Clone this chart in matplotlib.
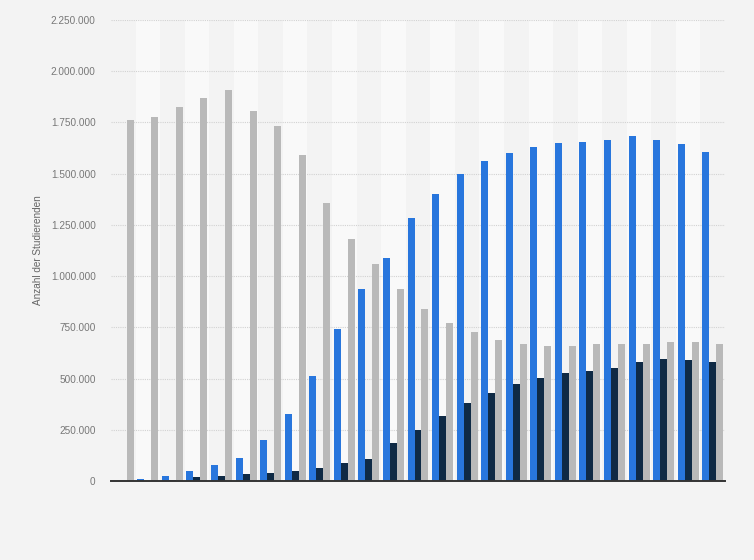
import numpy as np
import matplotlib
matplotlib.use("Agg")
import matplotlib.pyplot as plt
from matplotlib.ticker import FuncFormatter

plt.rcParams['font.family'] = ['Liberation Sans', 'DejaVu Sans']

# ---------- DATA ----------
groups = list(range(1, 26))
blue_vals = [0, 11000, 26000, 47000, 77000, 114000, 199000, 326000, 511000, 740000,
             939000, 1087000, 1282000, 1399000, 1497000, 1560000, 1599000, 1629000,
             1648000, 1653000, 1663000, 1684000, 1663000, 1645000, 1606000]
dark_vals = [0, 2000, 5000, 18000, 26000, 33000, 40000, 50000, 65000, 90000,
             109000, 187000, 250000, 316000, 382000, 431000, 475000, 505000,
             526000, 535000, 550000, 579000, 594000, 589000, 582000]
gray_vals = [1762000, 1777000, 1825000, 1869000, 1908000, 1806000, 1733000, 1590000,
             1355000, 1183000, 1061000, 936000, 838000, 770000, 726000, 690000,
             670000, 660000, 660000, 667000, 670000, 667000, 677000, 677000, 670000]
y_ticks = [0, 250000, 500000, 750000, 1000000, 1250000, 1500000, 1750000, 2000000, 2250000]

BG = '#f3f3f3'
BAND = '#f9f9f9'
BLUE = '#2876dd'
DARK = '#0f2a45'
GRAY = '#b9b9b9'

fig = plt.figure(figsize=(7.54, 5.6), dpi=100, facecolor=BG)
ax = fig.add_axes([111/754, 79/560, 614/754, 461/560])
ax.set_facecolor(BG)

x = np.arange(len(groups))
w = 0.285

# alternating bands
for i in x:
    if i % 2 == 1:
        ax.axvspan(i - 0.5, i + 0.5, color=BAND, zorder=0, lw=0)

ax.bar(x - w, blue_vals, w, color=BLUE, zorder=3)
ax.bar(x, dark_vals, w, color=DARK, zorder=3)
ax.bar(x + w, gray_vals, w, color=GRAY, zorder=3)

ax.set_xlim(-0.5, len(groups) - 0.5)
ax.set_ylim(0, 2250000)
ax.set_yticks(y_ticks)
ax.yaxis.set_major_formatter(FuncFormatter(lambda v, p: f"{int(v):,}".replace(",", ".")))
ax.set_xticks([])
ax.tick_params(axis='y', length=0, pad=11, labelsize=7.2, labelcolor='#777777')
ax.grid(axis='y', color='#d2d2d2', linestyle=(0, (1, 1)), linewidth=0.8, zorder=1)
ax.set_axisbelow(True)

for s in ['top', 'right', 'left']:
    ax.spines[s].set_visible(False)
ax.spines['bottom'].set_color('#333333')
ax.spines['bottom'].set_linewidth(1.4)
ax.spines['bottom'].set_zorder(4)

ax.set_ylabel("Anzahl der Studierenden", fontsize=7.2, color='#666666', labelpad=6)

fig.savefig("out.png", dpi=100, facecolor=BG)
